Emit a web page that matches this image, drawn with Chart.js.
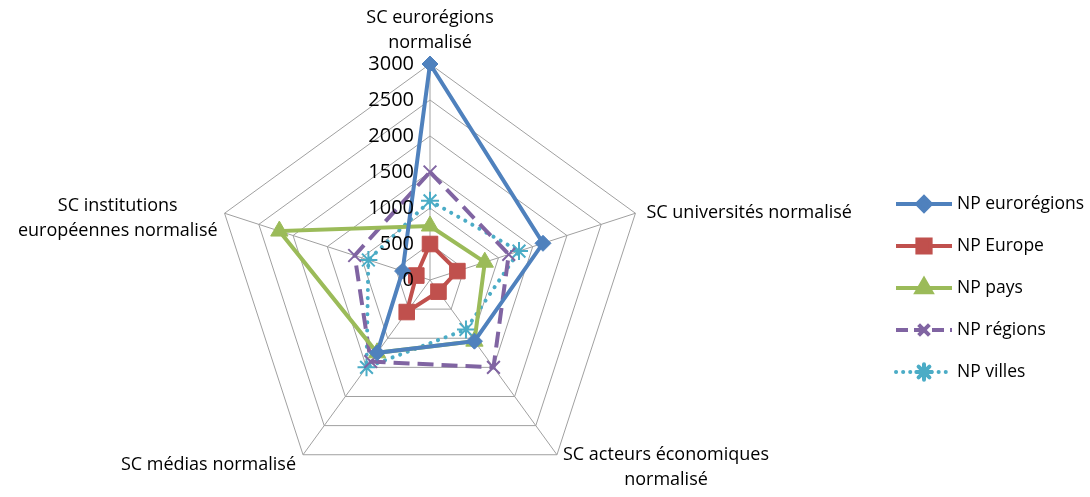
<!DOCTYPE html>
<html>
<head>
<meta charset="utf-8">
<script src="https://cdn.jsdelivr.net/npm/chart.js"></script>
<style>
  html, body { margin: 0; padding: 0; background: #fff; }
  #wrap { width: 1090px; height: 497px; }
</style>
</head>
<body>
<div id="wrap"><canvas id="radar"></canvas></div>
<script>
// axes
const axisLabels = [
    ["SC eurorégions", "normalisé"],
    ["SC universités normalisé"],
    ["SC acteurs économiques", "normalisé"],
    ["SC médias normalisé"],
    ["SC institutions", "européennes normalisé"]
];
const tickValues = [0, 500, 1000, 1500, 2000, 2500, 3000];

// series
const npEuroregions = [3000, 1650, 1050, 1250, 400];
const npEurope      = [500, 400, 200, 550, 200];
const npPays        = [750, 800, 1050, 1250, 2200];
const npRegions     = [1500, 1150, 1500, 1400, 1100];
const npVilles      = [1100, 1300, 850, 1500, 900];

const FONT = "'Open Sans', sans-serif";

// -----------------------------
// ticks, axis labels, legend
// -----------------------------
const decorations = {
    id: "decorations",
    afterDraw(chart) {
        const ctx = chart.ctx;
        const scale = chart.scales.r;
        ctx.save();
        ctx.fillStyle = "#000";

        // tick labels, left of the vertical axis
        ctx.font = "20px " + FONT;
        ctx.textAlign = "right";
        ctx.textBaseline = "middle";
        tickValues.forEach(v => {
            const d = scale.getDistanceFromCenterForValue(v);
            ctx.fillText(String(v), scale.xCenter - 16, scale.yCenter - d);
        });

        // point labels
        ctx.font = "18px " + FONT;
        ctx.textAlign = "center";
        const lh = 25;
        axisLabels.forEach((lines, i) => {
            const p = scale.getPointPosition(i, scale.drawingArea);
            const w = Math.max(...lines.map(l => ctx.measureText(l).width));
            const h = lines.length * lh;
            let cx, top;
            if (i === 0) {
                cx = p.x; top = p.y - 9 - h;
            } else if (p.x > scale.xCenter) {
                cx = p.x + (lines.length > 1 ? 6 : 11) + w / 2;
                top = p.y < scale.yCenter ? p.y - h / 2 : p.y - lh / 2;
            } else {
                cx = p.x - 7 - w / 2;
                top = p.y < scale.yCenter ? p.y - h / 2 + 5 : p.y - lh / 2 + 10;
            }
            lines.forEach((l, k) => ctx.fillText(l, cx, top + lh * k + lh / 2));
        });

        // legend: line + marker + text
        ctx.font = "17.5px " + FONT;
        const x0 = 896, y0 = 204, step = 42;
        chart.data.datasets.forEach((ds, k) => {
            const y = y0 + k * step;
            ctx.save();
            ctx.strokeStyle = ds.borderColor;
            ctx.lineWidth = ds.borderWidth;
            ctx.lineCap = ds.borderCapStyle || "butt";
            ctx.setLineDash(ds.legendDash || []);
            ctx.beginPath();
            ctx.moveTo(x0, y);
            ctx.lineTo(x0 + 56, y);
            ctx.stroke();
            ctx.setLineDash([]);
            ctx.fillStyle = ds.pointBackgroundColor;
            ctx.strokeStyle = ds.pointBorderColor;
            Chart.helpers.drawPoint(ctx, {
                pointStyle: ds.pointStyle,
                radius: ds.pointRadius * 0.85,
                borderWidth: ds.pointBorderWidth,
                rotation: 0
            }, x0 + 28, y);
            ctx.restore();
            ctx.fillStyle = "#000";
            ctx.textAlign = "left";
            ctx.fillText(ds.label, x0 + 61, y);
        });
        ctx.restore();
    }
};

function series(label, data, color, style, radius, extra) {
    return Object.assign({
        label: label,
        data: data,
        borderColor: color,
        borderWidth: 4,
        fill: false,
        tension: 0,
        clip: false,
        pointStyle: style,
        pointRadius: radius,
        pointHoverRadius: radius,
        pointBackgroundColor: color,
        pointBorderColor: color,
        pointBorderWidth: 1
    }, extra || {});
}

new Chart(document.getElementById("radar"), {
    type: "radar",
    data: {
        labels: axisLabels,
        datasets: [
            series("NP eurorégions", npEuroregions, "#4F81BD", "rectRot", 8),
            series("NP Europe", npEurope, "#C0504D", "rect", 11),
            series("NP pays", npPays, "#9BBB59", "triangle", 10),
            series("NP régions", npRegions, "#8064A2", "crossRot", 9,
                { borderDash: [16, 8], legendDash: [12, 6], pointBorderWidth: 2 }),
            series("NP villes", npVilles, "#4BACC6", "star", 9,
                { borderDash: [0.1, 8], legendDash: [0.1, 7], borderCapStyle: "round", pointBorderWidth: 2 })
        ]
    },
    options: {
        responsive: true,
        maintainAspectRatio: false,
        animation: false,
        layout: {
            padding: { left: 208, right: 438, top: 64, bottom: -11 }
        },
        plugins: {
            legend: { display: false },
            tooltip: { enabled: false }
        },
        scales: {
            r: {
                min: 0,
                max: 3000,
                ticks: { stepSize: 500, display: false },
                grid: { color: "#a0a0a0", lineWidth: 1 },
                angleLines: { color: "#a0a0a0", lineWidth: 1 },
                pointLabels: { display: false }
            }
        }
    },
    plugins: [decorations]
});
</script>
</body>
</html>
